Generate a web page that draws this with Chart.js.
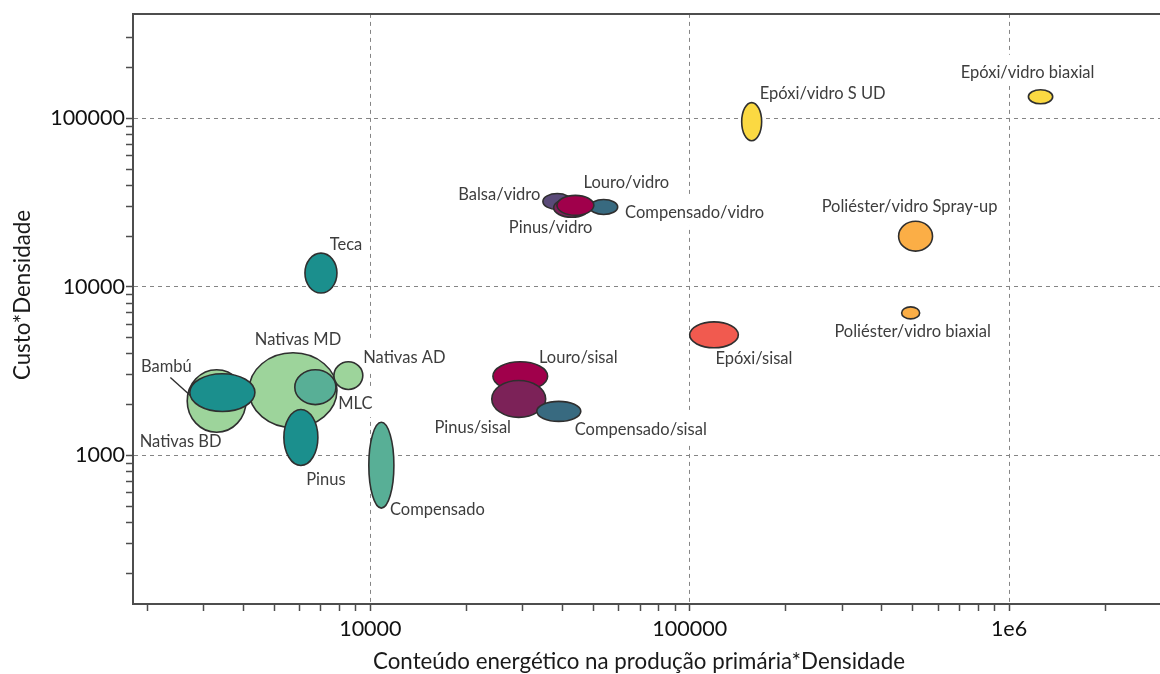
<!DOCTYPE html>
<html>
<head>
<meta charset="utf-8">
<script src="https://cdn.jsdelivr.net/npm/chart.js@4.4.1/dist/chart.umd.min.js"></script>
<style>
  html, body { margin: 0; padding: 0; background: #ffffff; }
  canvas { display: block; }
</style>
</head>
<body>
<canvas id="chart" width="1160" height="674"></canvas>
<script>
// Materials, listed in drawing order (back to front)
const materials = [
  'Nativas BD', 'Nativas MD', 'Bambú', 'MLC', 'Nativas AD', 'Pinus', 'Compensado', 'Teca',
  'Louro/sisal', 'Pinus/sisal', 'Compensado/sisal',
  'Balsa/vidro', 'Compensado/vidro', 'Pinus/vidro', 'Louro/vidro',
  'Epóxi/sisal', 'Epóxi/vidro S UD', 'Epóxi/vidro biaxial',
  'Poliéster/vidro Spray-up', 'Poliéster/vidro biaxial'
];

// Energy content in primary production * density (range per material)
const energyLow  = [2670, 4170, 2720, 5800, 7690, 5360,  9890, 6240,
                    24200, 24000, 33200,
                    34700, 48600, 37500, 38400,
                    100000, 145500, 1150000,
                    451000, 461000];
const energyHigh = [4080, 7860, 4350, 7800, 9470, 6850, 11850, 7860,
                    35900, 35400, 45600,
                    42700, 59500, 48600, 50100,
                    142000, 168000, 1370000,
                    576000, 525000];

// Cost * density (range per material)
const costLow  = [1370, 1460, 1820, 2000, 2460,  870,  486,  9190,
                  2420, 1680, 1590,
                  28800, 26900, 25900, 26600,
                  4350, 73700, 122000,
                  16300, 6450];
const costHigh = [3220, 4060, 3050, 3220, 3590, 1870, 1570, 15850,
                  3590, 2780, 2090,
                  35800, 33000, 33500, 34900,
                  6190, 124000, 148000,
                  24500, 7600];

// Axis ticks
const xMajorTicks = [10000, 100000, 1000000];
const xTickLabels = ['10000', '100000', '1e6'];
const yMajorTicks = [1000, 10000, 100000];
const yTickLabels = ['1000', '10000', '100000'];
const xRange = [1806, 2970000];
const yRange = [131, 417000];

// Fill colours per material
const GREEN_LIGHT = '#9dd49b', TEAL = '#1b8f8d', SEA = '#58af96',
      CRIMSON = '#a0004b', PLUM = '#7c2258', SLATE = '#386a80', PURPLE = '#5a4a78',
      RED = '#f15a4f', YELLOW = '#fbd942', ORANGE = '#fbae46';
const fillColors = [
  GREEN_LIGHT, GREEN_LIGHT, TEAL, SEA, GREEN_LIGHT, TEAL, SEA, TEAL,
  CRIMSON, PLUM, SLATE,
  PURPLE, SLATE, PLUM, CRIMSON,
  RED, YELLOW, YELLOW,
  ORANGE, ORANGE
];

// Label placement: pixel offset of each label from its ellipse centre
const labelOffsets = [
  [-36, 41], [5, -51], [-56, -26], [40, 17], [56, -18], [25, 42], [56, 44], [25, -28],
  [58, -19], [-46, 29], [82, 18],
  [-58, -7], [91, 6], [-21, 20], [51, -23],
  [40, 24], [71, -28], [-13, -24],
  [-6, -30], [2, 19]
];
// Leader line from the Bambú label to its ellipse (offsets from ellipse centre)
const leaderLines = { 'Bambú': [[-52, -15], [-32, 3]] };

const FONT = 'Lato, "Open Sans", sans-serif';

function logTicks(lo, hi) {
  const out = [];
  for (let e = Math.floor(Math.log10(lo)); e <= Math.ceil(Math.log10(hi)); e++) {
    for (let m = 1; m <= 9; m++) {
      const v = m * Math.pow(10, e);
      if (v >= lo && v <= hi) out.push(v);
    }
  }
  return out;
}
const xTickValues = logTicks(2000, 2000000);
const yTickValues = logTicks(200, 300000);

function ellipseGeom(chart, i) {
  const xs = chart.scales.x, ys = chart.scales.y;
  const x0 = xs.getPixelForValue(energyLow[i]), x1 = xs.getPixelForValue(energyHigh[i]);
  const y0 = ys.getPixelForValue(costLow[i]),   y1 = ys.getPixelForValue(costHigh[i]);
  return { cx: (x0 + x1) / 2, cy: (y0 + y1) / 2, rx: Math.abs(x1 - x0) / 2, ry: Math.abs(y1 - y0) / 2 };
}

const LABEL_FONT = '16.5px ' + FONT;

// White boxes behind labels (hide grid lines), ellipses, then label text
const ellipsePlugin = {
  id: 'materialEllipses',
  beforeDatasetsDraw(chart) {
    const ctx = chart.ctx, area = chart.chartArea;
    ctx.save();
    ctx.beginPath();
    ctx.rect(area.left, area.top, area.right - area.left, area.bottom - area.top);
    ctx.clip();
    ctx.font = LABEL_FONT;
    ctx.fillStyle = '#ffffff';
    materials.forEach((name, i) => {
      const g = ellipseGeom(chart, i);
      const w = ctx.measureText(name).width;
      const lx = g.cx + labelOffsets[i][0], ly = g.cy + labelOffsets[i][1];
      ctx.fillRect(lx - w / 2 - 3, ly - 18, w + 6, 31);
    });
    ctx.restore();
  },
  afterDatasetsDraw(chart) {
    const ctx = chart.ctx, area = chart.chartArea;
    ctx.save();
    ctx.beginPath();
    ctx.rect(area.left, area.top, area.right - area.left, area.bottom - area.top);
    ctx.clip();
    materials.forEach((name, i) => {
      const g = ellipseGeom(chart, i);
      ctx.beginPath();
      ctx.ellipse(g.cx, g.cy, g.rx, g.ry, 0, 0, Math.PI * 2);
      ctx.fillStyle = fillColors[i];
      ctx.fill();
      ctx.lineWidth = 1.6;
      ctx.strokeStyle = '#2f2f2f';
      ctx.stroke();
    });
    // leader lines
    ctx.strokeStyle = '#2f2f2f';
    ctx.lineWidth = 1.4;
    Object.keys(leaderLines).forEach(name => {
      const i = materials.indexOf(name);
      const g = ellipseGeom(chart, i);
      const [a, b] = leaderLines[name];
      ctx.beginPath();
      ctx.moveTo(g.cx + a[0], g.cy + a[1]);
      ctx.lineTo(g.cx + b[0], g.cy + b[1]);
      ctx.stroke();
    });
    // labels
    ctx.font = LABEL_FONT;
    ctx.fillStyle = '#3d3d3d';
    ctx.textAlign = 'center';
    ctx.textBaseline = 'middle';
    materials.forEach((name, i) => {
      const g = ellipseGeom(chart, i);
      ctx.fillText(name, g.cx + labelOffsets[i][0], g.cy + labelOffsets[i][1]);
    });
    ctx.restore();
  }
};

// Top frame line and axis titles
const framePlugin = {
  id: 'frameAndTitles',
  afterDraw(chart) {
    const ctx = chart.ctx, area = chart.chartArea;
    ctx.save();
    ctx.strokeStyle = '#4d4d4d';
    ctx.lineWidth = 2;
    ctx.beginPath();
    ctx.moveTo(area.left - 1, area.top);
    ctx.lineTo(area.right, area.top);
    ctx.stroke();

    ctx.fillStyle = '#1a1a1a';
    ctx.font = '22.3px ' + FONT;
    ctx.textAlign = 'center';
    ctx.textBaseline = 'middle';
    ctx.fillText('Conteúdo energético na produção primária*Densidade', 639, 662);
    ctx.translate(23, 295);
    ctx.rotate(-Math.PI / 2);
    ctx.fillText('Custo*Densidade', 0, 0);
    ctx.restore();
  }
};

function axisOptions(tickValues, majors, labels, range, isX) {
  const isMajor = v => majors.indexOf(v) >= 0;
  return {
    type: 'logarithmic',
    min: range[0],
    max: range[1],
    afterBuildTicks(scale) {
      scale.ticks = tickValues.map(v => ({ value: v, major: isMajor(v) }));
    },
    afterFit(scale) {
      if (isX) scale.height = 70; else scale.width = 133;
    },
    border: { display: true, color: '#4d4d4d', width: 2, dash: [4, 4] },
    grid: {
      display: true,
      drawOnChartArea: true,
      drawTicks: true,
      tickLength: 7,
      lineWidth: 1,
      tickWidth: 1.5,
      tickColor: '#4d4d4d',
      color: ctx => (ctx.tick && isMajor(ctx.tick.value)) ? '#858585' : 'rgba(0,0,0,0)'
    },
    ticks: {
      autoSkip: false,
      maxRotation: 0,
      minRotation: 0,
      padding: isX ? 5 : 1,
      color: '#111111',
      font: { family: FONT, size: 21.5 },
      callback: v => {
        const k = majors.indexOf(v);
        return k >= 0 ? labels[k] : '';
      }
    }
  };
}

new Chart(document.getElementById('chart'), {
  type: 'scatter',
  data: {
    datasets: [{
      label: 'Materiais',
      data: materials.map((m, i) => ({
        x: Math.sqrt(energyLow[i] * energyHigh[i]),
        y: Math.sqrt(costLow[i] * costHigh[i])
      })),
      pointRadius: 0,
      pointHoverRadius: 0
    }]
  },
  options: {
    responsive: false,
    animation: false,
    devicePixelRatio: 1,
    layout: { padding: { top: 12, left: 0, right: 0, bottom: 0 } },
    plugins: { legend: { display: false }, tooltip: { enabled: false } },
    events: [],
    scales: {
      x: axisOptions(xTickValues, xMajorTicks, xTickLabels, xRange, true),
      y: axisOptions(yTickValues, yMajorTicks, yTickLabels, yRange, false)
    }
  },
  plugins: [ellipsePlugin, framePlugin]
});
</script>
</body>
</html>
